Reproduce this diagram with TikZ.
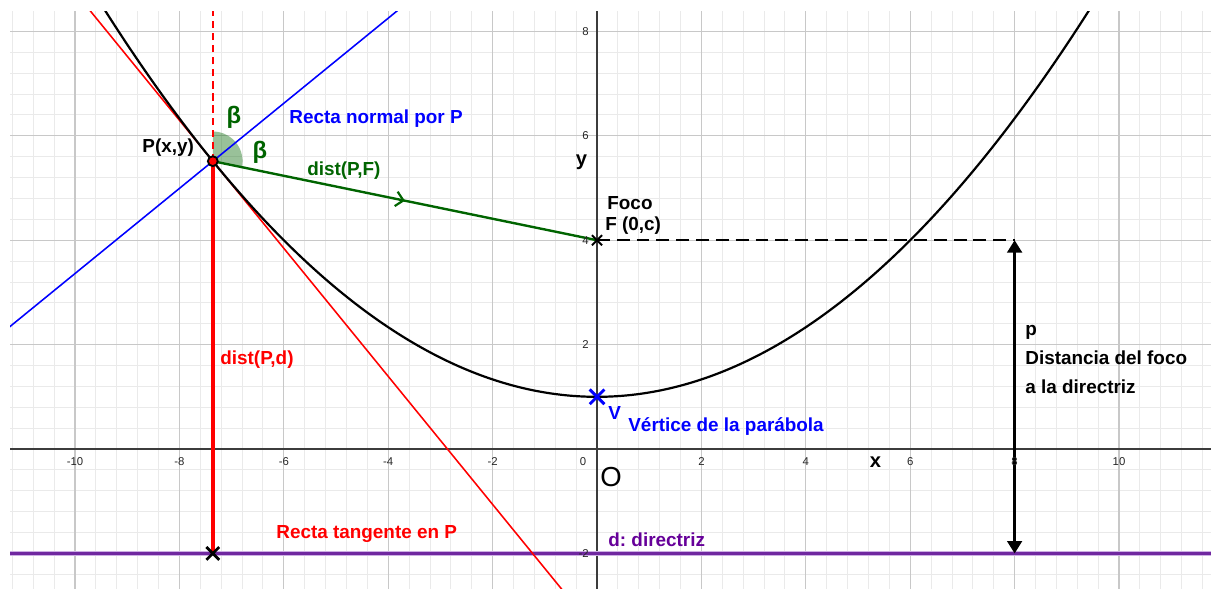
\documentclass[tikz,border=0pt]{standalone}
\usepackage{fontspec}
\setmainfont{Liberation Sans}
\usetikzlibrary{arrows.meta,decorations.markings,shapes.misc}
\definecolor{ggbgreen}{RGB}{0,100,0}
\definecolor{ggbpurple}{RGB}{102,0,153}
\definecolor{dirline}{RGB}{112,40,160}
\definecolor{dirhalo}{RGB}{205,175,228}
\definecolor{gridmajor}{RGB}{200,200,200}
\definecolor{gridminor}{RGB}{234,234,234}
\definecolor{axiscol}{RGB}{60,60,60}
\frenchspacing
\begin{document}
\begin{tikzpicture}[x=1cm,y=1cm,
  lbl/.style={inner sep=0pt, anchor=base west, font=\fontsize{10.3}{12}\selectfont\bfseries},
  betalbl/.style={inner sep=0pt, anchor=center, text=ggbgreen, font=\fontsize{13}{14}\selectfont\bfseries},
  axlbl/.style={inner sep=0pt, anchor=center, font=\fontsize{11}{12}\selectfont\bfseries},
  ticklbl/.style={inner sep=0pt, font=\fontsize{6.2}{7}\selectfont, text=black!85},
  curve/.style={black, line width=1.2pt},
  tanline/.style={red, line width=0.85pt},
  normline/.style={blue, line width=0.85pt},
  midarrow/.style={postaction={decorate}, decoration={markings, mark=at position 0.5 with {\arrow{Straight Barb[length=4pt,width=8pt,line width=1.2pt]}}}},
  xmark/.style={cross out, draw, inner sep=0pt, outer sep=0pt},
]
\useasboundingbox (-11.437,-2.663) rectangle (11.762,8.602);
% key points
\coordinate (P) at (-7.36,5.514);
\coordinate (F) at (0,4);
\coordinate (V) at (0,1);
\coordinate (D) at (-7.36,-2);
\coordinate (A) at (8,4);
\coordinate (B) at (8,-2);
\coordinate (Ptop) at (-7.36,8.5);
\coordinate (T1) at (-9.96,8.703);
\coordinate (T2) at (-0.36,-3.073);
\coordinate (N1) at (-11.56,2.090);
\coordinate (N2) at (-2.86,9.183);
\coordinate (DL) at (-11.4,-2);
\coordinate (DR) at (11.9,-2);
\coordinate (XL) at (-11.4,0);
\coordinate (XR) at (11.9,0);
\coordinate (YT) at (0,8.5);
\coordinate (YB) at (0,-2.8);
\begin{scope}
\clip (-11.245,-2.663) rectangle (11.762,8.372);
\draw[gridminor, line width=0.5pt, step=0.4] (-11.6,-2.8) grid (12,8.8);
\draw[gridmajor, line width=0.6pt, step=2] (-11.6,-2.8) grid (12,8.8);
\draw[axiscol, line width=0.8pt] (XL) -- (XR);
\draw[axiscol, line width=0.8pt] (YB) -- (YT);
% directrix
\draw[dirhalo, line width=2.4pt] (DL) -- (DR);
\draw[dirline, line width=1.2pt] (DL) -- (DR);
% angle sector (from PF direction up to the vertical, bisected by the normal)
\fill[ggbgreen, fill opacity=0.4] (P) -- ++(-11.62:0.57) arc[start angle=-11.62, end angle=90, radius=0.57] -- cycle;
% normal and tangent
\draw[normline] (N1) -- (N2);
\draw[tanline] (T1) -- (T2);
% parabola
\draw[curve] plot[domain=-9.6:9.6, samples=200, smooth] (\x,{\x*\x/12+1});
% red dashed vertical
\draw[red, line width=1.1pt, dash pattern=on 4pt off 2.6pt] (P) -- (Ptop);
% dist(P,d)
\draw[red, line width=2.2pt] (P) -- (D);
% dist(P,F)
\draw[ggbgreen, line width=1.3pt, midarrow] (P) -- (F);
% dashed focus line
\draw[black, line width=1.3pt, dash pattern=on 7pt off 3.8pt] (F) -- (A);
% p arrow
\draw[black, line width=1.3pt, {Triangle[length=6.7pt,width=8pt]}-{Triangle[length=6.7pt,width=8pt]}] (A) -- (B);
\end{scope}
% tick labels
\foreach \i in {-10,-8,-6,-4,-2,2,4,6,8,10} \node[ticklbl] (xt\i) at (\i,-0.24) {\i};
\node[ticklbl] (xt0) at (-0.268,-0.24) {0};
\foreach \j in {-2,2,4,6,8} \node[ticklbl, anchor=east] (yt\j) at (-0.153,\j) {\j};
% markers
\node[xmark, black, line width=1.1pt, minimum size=5.5pt] (Fm) at (F) {};
\node[xmark, black, line width=1.5pt, minimum size=7pt] (Dm) at (D) {};
\node[xmark, blue, line width=1.6pt, minimum size=8pt] (Vm) at (V) {};
\node[circle, draw=black, fill=red, line width=1pt, minimum size=5.4pt, inner sep=0pt] (Pm) at (P) {};
% labels
\node[lbl] (lP) at (-8.716,5.676) {P(x,y)};
\node[betalbl] (b1) at (-6.954,6.360) {β};
\node[betalbl] (b2) at (-6.456,5.680) {β};
\node[lbl, text=blue] (lnorm) at (-5.900,6.245) {Recta normal por P};
\node[lbl, text=ggbgreen] (lpf) at (-5.556,5.249) {dist(P,F)};
\node[lbl] (lfoco) at (0.192,4.598) {Foco};
\node[lbl] (lF) at (0.153,4.195) {F (0,c)};
\node[lbl, text=blue] (lV) at (0.211,0.575) {V};
\node[lbl, text=blue] (lvert) at (0.594,0.332) {Vértice de la parábola};
\node[lbl, text=ggbpurple] (ldir) at (0.211,-1.871) {d: directriz};
\node[lbl, text=red] (lpd) at (-7.222,1.628) {dist(P,d)};
\node[lbl, text=red] (ltan) at (-6.149,-1.715) {Recta tangente en P};
\node[lbl] (lp) at (8.199,2.184) {p};
\node[lbl] (ld1) at (8.199,1.619) {Distancia del foco};
\node[lbl] (ld2) at (8.199,1.063) {a la directriz};
\node[inner sep=0pt, font=\fontsize{15}{16}\selectfont] (O) at (0.268,-0.536) {O};
\node[axlbl] (xl) at (5.335,-0.259) {x};
\node[axlbl] (yl) at (-0.297,5.498) {y};
\end{tikzpicture}
\end{document}
